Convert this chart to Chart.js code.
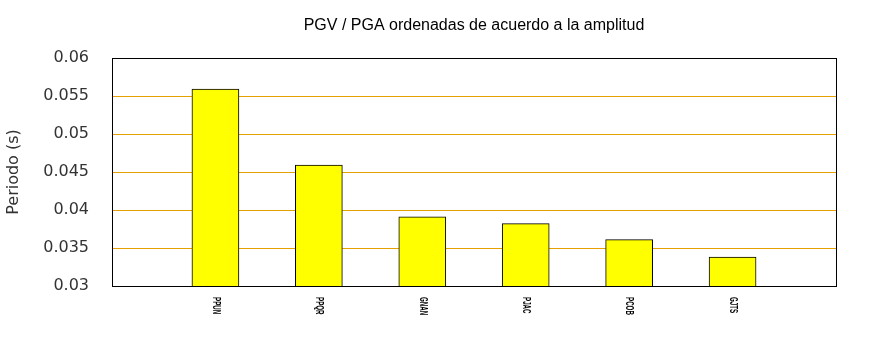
<!DOCTYPE html>
<html>
<head>
<meta charset="utf-8">
<script src="https://cdn.jsdelivr.net/npm/chart.js@4"></script>
<style>
  body { margin: 0; background: #fff; }
  #wrap { width: 870px; height: 350px; }
</style>
</head>
<body>
<div id="wrap"><canvas id="periodChart"></canvas></div>
<script>
// estaciones ordenadas por amplitud (huecos vacios a los extremos)
const stations = ['', 'PPUN', 'PPQR', 'GNAN', 'PJAC', 'PCOB', 'GJTS', ''];
const periods = [null, 0.0559, 0.0459, 0.0391, 0.0382, 0.0361, 0.0338, null];
const yTicks = [0.03, 0.035, 0.04, 0.045, 0.05, 0.055, 0.06];
const chartTitle = 'PGV / PGA ordenadas de acuerdo a la amplitud';

// lineas guia naranjas detras de las barras
const gridPlugin = {
    id: 'orangeGrid',
    beforeDatasetsDraw(chart) {
        let ctx = chart.ctx;
        let a = chart.chartArea;
        let ys = chart.scales.y;
        ctx.save();
        ctx.strokeStyle = '#e6a000';
        ctx.lineWidth = 1;
        yTicks.slice(1, -1).forEach(v => {
            let y = Math.round(ys.getPixelForValue(v)) + 0.5;
            ctx.beginPath();
            ctx.moveTo(a.left, y);
            ctx.lineTo(a.right, y);
            ctx.stroke();
        });
        ctx.restore();
    }
};

// titulo centrado sobre el area, marco negro y etiquetas verticales
const framePlugin = {
    id: 'frame',
    afterDraw(chart) {
        let ctx = chart.ctx;
        let a = chart.chartArea;
        ctx.save();
        ctx.strokeStyle = '#000';
        ctx.lineWidth = 1;
        ctx.strokeRect(Math.round(a.left) + 0.5, Math.round(a.top) + 0.5,
            Math.round(a.right - a.left), Math.round(a.bottom - a.top));

        ctx.fillStyle = '#000';
        ctx.font = '16px "Liberation Sans", Arial, sans-serif';
        ctx.textAlign = 'center';
        ctx.textBaseline = 'middle';
        ctx.fillText(chartTitle, (a.left + a.right) / 2, 26);

        let xs = chart.scales.x;
        ctx.font = 'bold 10px "Liberation Sans", Arial, sans-serif';
        ctx.textAlign = 'left';
        stations.forEach((name, i) => {
            if (!name) return;
            ctx.save();
            ctx.translate(xs.getPixelForValue(i), a.bottom + 11);
            ctx.rotate(Math.PI / 2);
            ctx.scale(0.62, 1);
            ctx.fillText(name, 0, 0);
            ctx.restore();
        });
        ctx.restore();
    }
};

new Chart(document.getElementById('periodChart'), {
    type: 'bar',
    data: {
        labels: stations,
        datasets: [{
            data: periods,
            backgroundColor: '#ffff00',
            borderColor: '#000',
            borderWidth: 1,
            barThickness: 47
        }]
    },
    options: {
        responsive: true,
        maintainAspectRatio: false,
        animation: false,
        layout: { padding: { left: 0, right: 34, top: 58, bottom: 0 } },
        plugins: {
            legend: { display: false },
            tooltip: { enabled: false },
            title: { display: false }
        },
        scales: {
            x: {
                offset: false,
                grid: { display: false },
                border: { display: false },
                ticks: { display: false },
                afterFit: s => { s.height = 64; }
            },
            y: {
                min: 0.03,
                max: 0.06,
                afterBuildTicks: s => { s.ticks = yTicks.map(v => ({ value: v })); },
                grid: { display: false },
                border: { display: false },
                ticks: {
                    color: '#333',
                    padding: 15,
                    font: { family: '"DejaVu Sans", sans-serif', size: 16 },
                    callback: v => String(+v.toFixed(3))
                },
                title: {
                    display: true,
                    text: 'Periodo (s)',
                    color: '#333',
                    font: { family: '"DejaVu Sans", sans-serif', size: 16 },
                    padding: { top: 4, bottom: 0 }
                },
                afterFit: s => { s.width = 112; }
            }
        }
    },
    plugins: [gridPlugin, framePlugin]
});
</script>
</body>
</html>
